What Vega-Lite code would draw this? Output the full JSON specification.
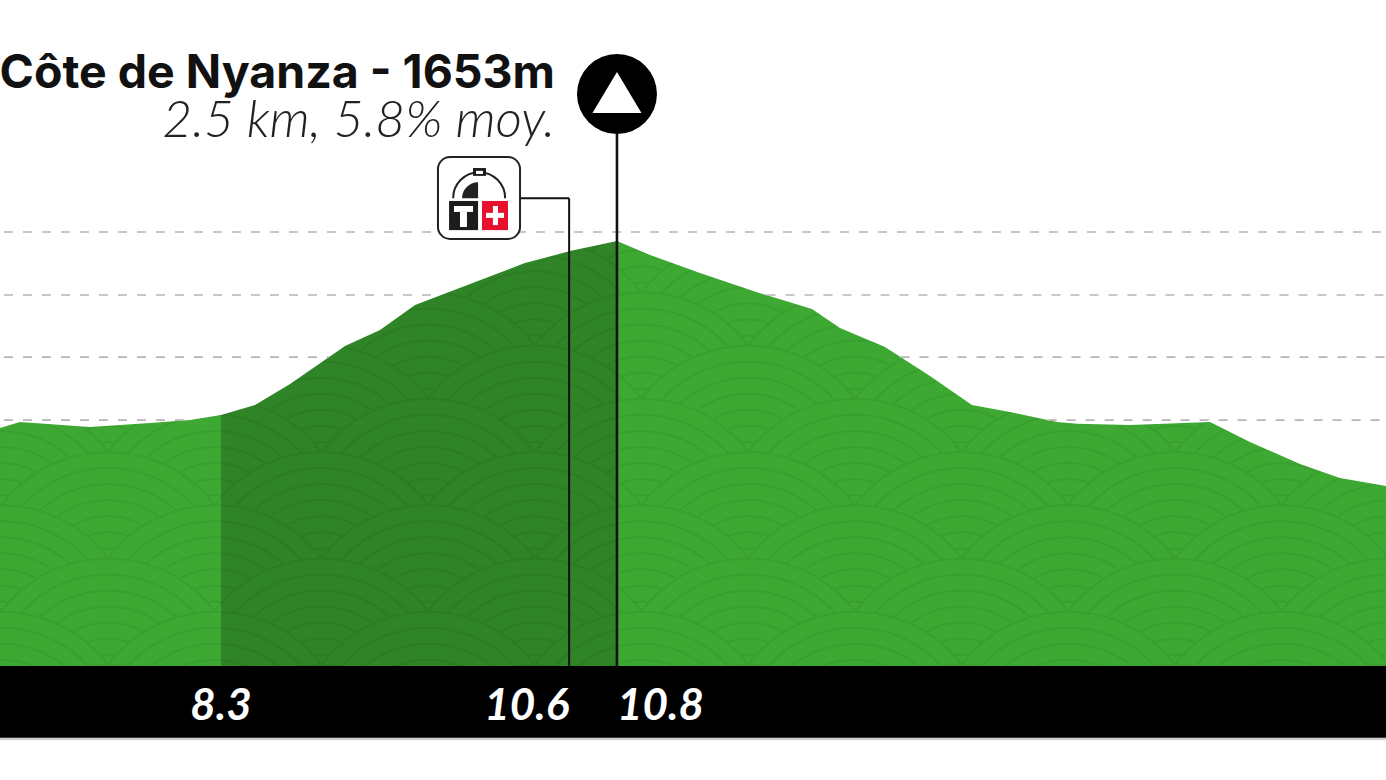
{"$schema":"https://vega.github.io/schema/vega-lite/v6.json","width":1386,"height":780,"padding":0,"autosize":{"type":"none"},"background":"white","config":{"view":{"stroke":null}},
"datasets":{
"profil":[{"km":6.905,"elev":1593.5},{"km":7.031,"elev":1595.4},{"km":7.473,"elev":1593.8},{"km":7.852,"elev":1595.1},{"km":8.104,"elev":1596.0},{"km":8.3,"elev":1597.6},{"km":8.515,"elev":1600.8},{"km":8.736,"elev":1607.5},{"km":9.083,"elev":1619.6},{"km":9.304,"elev":1624.7},{"km":9.525,"elev":1632.7},{"km":9.872,"elev":1639.4},{"km":10.219,"elev":1646.1},{"km":10.503,"elev":1649.9},{"km":10.8,"elev":1653.1},{"km":11.009,"elev":1648.7},{"km":11.324,"elev":1642.9},{"km":11.703,"elev":1636.5},{"km":12.031,"elev":1631.4},{"km":12.208,"elev":1625.4},{"km":12.492,"elev":1619.3},{"km":12.776,"elev":1610.1},{"km":13.041,"elev":1600.8},{"km":13.281,"elev":1598.6},{"km":13.578,"elev":1595.4},{"km":13.704,"elev":1594.8},{"km":14.039,"elev":1594.4},{"km":14.544,"elev":1595.4},{"km":14.796,"elev":1589.0},{"km":15.112,"elev":1582.0},{"km":15.364,"elev":1577.5},{"km":15.655,"elev":1575.0}],
"motif":[
{"km":6.240,"elev":1644.96},{"km":7.587,"elev":1644.96},{"km":8.934,"elev":1644.96},{"km":10.281,"elev":1644.96},{"km":11.628,"elev":1644.96},{"km":12.976,"elev":1644.96},{"km":14.323,"elev":1644.96},{"km":15.670,"elev":1644.96},
{"km":6.913,"elev":1628.06},{"km":8.260,"elev":1628.06},{"km":9.608,"elev":1628.06},{"km":10.955,"elev":1628.06},{"km":12.302,"elev":1628.06},{"km":13.649,"elev":1628.06},{"km":14.997,"elev":1628.06},{"km":16.344,"elev":1628.06},
{"km":6.240,"elev":1611.08},{"km":7.587,"elev":1611.08},{"km":8.934,"elev":1611.08},{"km":10.281,"elev":1611.08},{"km":11.628,"elev":1611.08},{"km":12.976,"elev":1611.08},{"km":14.323,"elev":1611.08},{"km":15.670,"elev":1611.08},
{"km":6.913,"elev":1594.11},{"km":8.260,"elev":1594.11},{"km":9.608,"elev":1594.11},{"km":10.955,"elev":1594.11},{"km":12.302,"elev":1594.11},{"km":13.649,"elev":1594.11},{"km":14.997,"elev":1594.11},{"km":16.344,"elev":1594.11},
{"km":6.240,"elev":1577.14},{"km":7.587,"elev":1577.14},{"km":8.934,"elev":1577.14},{"km":10.281,"elev":1577.14},{"km":11.628,"elev":1577.14},{"km":12.976,"elev":1577.14},{"km":14.323,"elev":1577.14},{"km":15.670,"elev":1577.14},
{"km":6.913,"elev":1560.17},{"km":8.260,"elev":1560.17},{"km":9.608,"elev":1560.17},{"km":10.955,"elev":1560.17},{"km":12.302,"elev":1560.17},{"km":13.649,"elev":1560.17},{"km":14.997,"elev":1560.17},{"km":16.344,"elev":1560.17},
{"km":6.240,"elev":1543.2},{"km":7.587,"elev":1543.2},{"km":8.934,"elev":1543.2},{"km":10.281,"elev":1543.2},{"km":11.628,"elev":1543.2},{"km":12.976,"elev":1543.2},{"km":14.323,"elev":1543.2},{"km":15.670,"elev":1543.2},
{"km":6.913,"elev":1526.23},{"km":8.260,"elev":1526.23},{"km":9.608,"elev":1526.23},{"km":10.955,"elev":1526.23},{"km":12.302,"elev":1526.23},{"km":13.649,"elev":1526.23},{"km":14.997,"elev":1526.23},{"km":16.344,"elev":1526.23},
{"km":6.240,"elev":1509.26},{"km":7.587,"elev":1509.26},{"km":8.934,"elev":1509.26},{"km":10.281,"elev":1509.26},{"km":11.628,"elev":1509.26},{"km":12.976,"elev":1509.26},{"km":14.323,"elev":1509.26},{"km":15.670,"elev":1509.26},
{"km":6.913,"elev":1492.29},{"km":8.260,"elev":1492.29},{"km":9.608,"elev":1492.29},{"km":10.955,"elev":1492.29},{"km":12.302,"elev":1492.29},{"km":13.649,"elev":1492.29},{"km":14.997,"elev":1492.29},{"km":16.344,"elev":1492.29},
{"km":6.240,"elev":1475.32},{"km":7.587,"elev":1475.32},{"km":8.934,"elev":1475.32},{"km":10.281,"elev":1475.32},{"km":11.628,"elev":1475.32},{"km":12.976,"elev":1475.32},{"km":14.323,"elev":1475.32},{"km":15.670,"elev":1475.32}],
"grille":[{"km":6.93,"km2":15.655,"elev":1656},{"km":6.93,"km2":9.689,"elev":1635.9},{"km":11.744,"km2":15.655,"elev":1635.9},{"km":6.93,"km2":8.982,"elev":1616.1},{"km":12.59,"km2":15.655,"elev":1616.1},{"km":6.93,"km2":8.104,"elev":1596.0},{"km":13.519,"km2":15.655,"elev":1596.0}],
"icone":[
{"part":"noir","km":9.74,"km2":9.923,"elev":1665.9,"elev2":1656.6},
{"part":"rouge","km":9.948,"km2":10.112,"elev":1665.9,"elev2":1656.6},
{"part":"blanc","km":9.973,"km2":10.087,"elev":1662.1,"elev2":1660.5},
{"part":"blanc","km":10.017,"km2":10.049,"elev":1664.3,"elev2":1658.2},
{"part":"blanc","km":9.771,"km2":9.891,"elev":1664.3,"elev2":1662.4},
{"part":"blanc","km":9.809,"km2":9.853,"elev":1662.4,"elev2":1657.6},
{"part":"noir","km":9.891,"km2":9.973,"elev":1676.4,"elev2":1673.9},
{"part":"blanc","km":9.91,"km2":9.954,"elev":1675.5,"elev2":1674.5}]
},
"encoding":{
"x":{"field":"km","type":"quantitative","axis":null,"scale":{"domain":[6.905,15.655],"nice":false,"zero":false}},
"y":{"field":"elev","type":"quantitative","axis":null,"stack":null,"scale":{"domain":[1481.2,1730.0],"nice":false,"zero":false}}
},
"layer":[
{"data":{"name":"profil"},"mark":{"type":"area","color":"#3da933"},"encoding":{"y2":{"datum":1517.6}}},
{"data":{"name":"motif"},"mark":{"type":"point","clip":true,"filled":true,"opacity":1,"fill":"#3da933","stroke":"#3a9f30","strokeWidth":2,"size":71396,"shape":"M1,0A1,1 0 1,1 -1,0A1,1 0 1,1 1,0Z M0.88,0A0.88,0.88 0 1,1 -0.88,0A0.88,0.88 0 1,1 0.88,0Z M0.76,0A0.76,0.76 0 1,1 -0.76,0A0.76,0.76 0 1,1 0.76,0Z M0.64,0A0.64,0.64 0 1,1 -0.64,0A0.64,0.64 0 1,1 0.64,0Z M0.52,0A0.52,0.52 0 1,1 -0.52,0A0.52,0.52 0 1,1 0.52,0Z M0.4,0A0.4,0.4 0 1,1 -0.4,0A0.4,0.4 0 1,1 0.4,0Z M0.28,0A0.28,0.28 0 1,1 -0.28,0A0.28,0.28 0 1,1 0.28,0Z"}},
{"data":{"name":"profil"},"transform":[{"filter":"datum.km>=8.3 && datum.km<=10.8"}],"mark":{"type":"area","color":"#000000","opacity":0.22},"encoding":{"y2":{"datum":1517.6}}},
{"data":{"name":"profil"},"mark":{"type":"area","color":"#ffffff"},"encoding":{"y2":{"datum":1730}}},
{"data":{"name":"grille"},"mark":{"type":"rule","color":"#b5b5b5","strokeWidth":1.6,"strokeDash":[9,10]},"encoding":{"x2":{"field":"km2"}}},
{"data":{"values":[{"km":6.905,"km2":15.655,"elev":1517.6,"elev2":1481.2}]},"mark":{"type":"rect","color":"#ffffff"},"encoding":{"x2":{"field":"km2"},"y2":{"field":"elev2"}}},
{"data":{"values":[{"km":6.905,"km2":15.655,"elev":1517.6,"elev2":1494.7}]},"mark":{"type":"rect","color":"#000000"},"encoding":{"x2":{"field":"km2"},"y2":{"field":"elev2"}}},
{"data":{"values":[{"km":6.905,"km2":15.655,"elev":1494.3}]},"mark":{"type":"rule","color":"#bdbdbd","strokeWidth":1.5},"encoding":{"x2":{"field":"km2"}}},
{"data":{"values":[{"km":10.8,"elev":1687.3,"elev2":1517.6}]},"mark":{"type":"rule","color":"#111111","strokeWidth":2.6},"encoding":{"y2":{"field":"elev2"}}},
{"data":{"values":[{"km":10.498,"elev":1666.8,"elev2":1517.6}]},"mark":{"type":"rule","color":"#111111","strokeWidth":2},"encoding":{"y2":{"field":"elev2"}}},
{"data":{"values":[{"km":10.188,"km2":10.498,"elev":1666.8}]},"mark":{"type":"rule","color":"#111111","strokeWidth":2},"encoding":{"x2":{"field":"km2"}}},
{"data":{"values":[{"km":10.8,"elev":1700.0}]},"mark":{"type":"point","shape":"circle","filled":true,"opacity":1,"color":"#000000","size":6400}},
{"data":{"values":[{"km":10.8,"elev":1700.5}]},"mark":{"type":"point","shape":"M0,-1L1.195,1L-1.195,1Z","filled":true,"opacity":1,"color":"#ffffff","size":1680}},
{"data":{"values":[{"km":9.67,"km2":10.188,"elev":1679.9,"elev2":1653.8}]},"mark":{"type":"rect","fill":"#ffffff","stroke":"#222222","strokeWidth":2,"cornerRadius":12},"encoding":{"x2":{"field":"km2"},"y2":{"field":"elev2"}}},
{"data":{"values":[{"km":9.93,"elev":1666.8}]},"mark":{"type":"point","shape":"M-1,0A1,1 0 0,1 1,0","filled":false,"opacity":1,"stroke":"#222222","strokeWidth":2,"size":2704}},
{"data":{"values":[{"km":9.923,"elev":1666.8}]},"mark":{"type":"point","shape":"M0,0L0,-1A1,1 0 0,0 -1,0Z","filled":true,"opacity":1,"color":"#222222","size":1024}},
{"data":{"name":"icone"},"mark":{"type":"rect"},"encoding":{"x2":{"field":"km2"},"y2":{"field":"elev2"},"color":{"field":"part","type":"nominal","legend":null,"scale":{"domain":["noir","rouge","blanc"],"range":["#1c1c1c","#e8112d","#ffffff"]}}}},
{"data":{"values":[{"km":10.409,"elev":1701.9,"t":"Côte de Nyanza - 1653m"}]},"mark":{"type":"text","align":"right","baseline":"alphabetic","font":"Inter","fontWeight":700,"fontSize":46.5,"color":"#111111"},"encoding":{"text":{"field":"t"}}},
{"data":{"values":[{"km":10.409,"elev":1686.3,"t":"2.5 km, 5.8% moy."}]},"mark":{"type":"text","align":"right","baseline":"alphabetic","font":"Lato","fontWeight":300,"fontStyle":"italic","fontSize":51.5,"color":"#222222"},"encoding":{"text":{"field":"t"}}},
{"data":{"values":[{"km":8.3,"elev":1500.3,"t":"8.3"}]},"mark":{"type":"text","align":"center","baseline":"alphabetic","font":"Lato","fontWeight":700,"fontStyle":"italic","fontSize":44,"color":"#ffffff"},"encoding":{"text":{"field":"t"}}},
{"data":{"values":[{"km":10.498,"elev":1500.3,"t":"10.6"}]},"mark":{"type":"text","align":"right","baseline":"alphabetic","font":"Lato","fontWeight":700,"fontStyle":"italic","fontSize":44,"color":"#ffffff"},"encoding":{"text":{"field":"t"}}},
{"data":{"values":[{"km":10.8,"elev":1500.3,"t":"10.8"}]},"mark":{"type":"text","align":"left","baseline":"alphabetic","font":"Lato","fontWeight":700,"fontStyle":"italic","fontSize":44,"color":"#ffffff"},"encoding":{"text":{"field":"t"}}}
]}
